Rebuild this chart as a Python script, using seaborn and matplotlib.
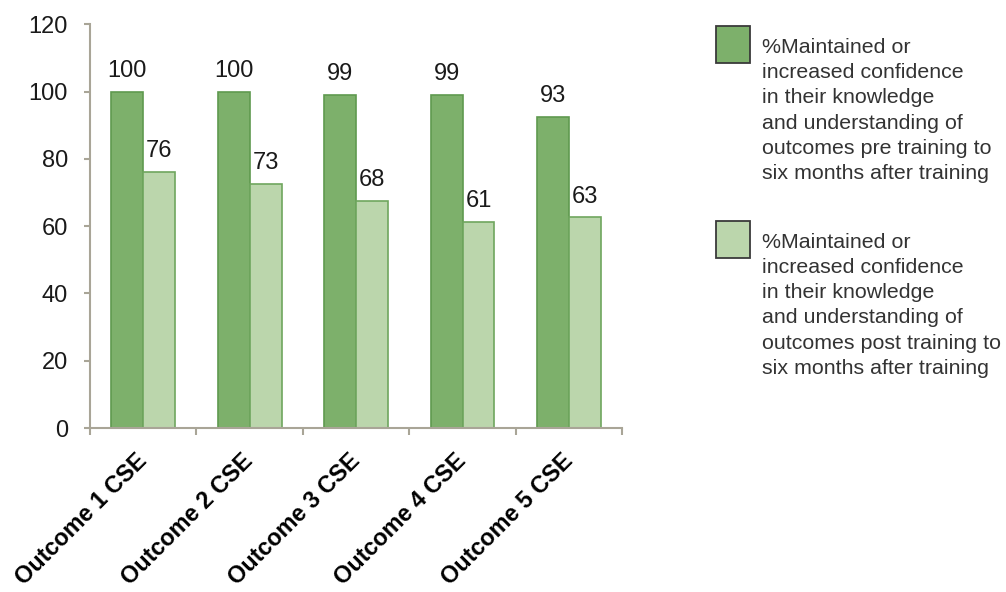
import pandas as pd
import matplotlib.pyplot as plt
import matplotlib.patches as mpatches
import seaborn as sns

# values
outcomes = ['Outcome 1 CSE', 'Outcome 2 CSE', 'Outcome 3 CSE', 'Outcome 4 CSE', 'Outcome 5 CSE']
pre_values = [100, 100, 99, 99, 92.5]
post_values = [76.2, 72.5, 67.5, 61.2, 62.6]
pre_labels = ['100', '100', '99', '99', '93']
post_labels = ['76', '73', '68', '61', '63']
series_names = ['pre', 'post']
legend_texts = [
    '%Maintained or\nincreased confidence\nin their knowledge\nand understanding of\noutcomes pre training to\nsix months after training',
    '%Maintained or\nincreased confidence\nin their knowledge\nand understanding of\noutcomes post training to\nsix months after training',
]
fills = ['#7DB06B', '#BBD6AC']
edges = ['#5F9A4F', '#6FA65E']
axis_grey = '#A9A597'

df = pd.DataFrame({
    'outcome': outcomes * 2,
    'value': pre_values + post_values,
    'series': [series_names[0]] * 5 + [series_names[1]] * 5,
})

sns.set_style('ticks')
plt.rcParams['font.family'] = ['Liberation Sans', 'DejaVu Sans']

fig = plt.figure(figsize=(10.06, 5.92), dpi=100)
ax = fig.add_axes([0.0895, 0.277, 0.529, 0.682])

sns.barplot(data=df, x='outcome', y='value', hue='series', order=outcomes,
            hue_order=series_names, palette=fills, saturation=1, width=0.6, gap=0,
            linewidth=1.2, legend=False, ax=ax)

# outline colours per series
for cont, ec, labs in zip(ax.containers, edges, [pre_labels, post_labels]):
    for bar in cont:
        bar.set_edgecolor(ec)
    ax.bar_label(cont, labels=labs, padding=7, fontsize=17, color='#1a1a1a')

ax.set_ylim(0, 120)
ax.set_yticks(range(0, 121, 20))
ax.set_xlim(-0.5, 4.5)
ax.set_xlabel('')
ax.set_ylabel('')

for side in ['top', 'right']:
    ax.spines[side].set_visible(False)
for side in ['left', 'bottom']:
    ax.spines[side].set_color(axis_grey)
    ax.spines[side].set_linewidth(1.5)

ax.tick_params(axis='y', length=4, width=1.5, color=axis_grey, labelsize=17, pad=12, labelcolor='#1a1a1a')
ax.tick_params(axis='x', which='major', bottom=False, length=0, pad=21)
ax.set_xticks([i - 0.5 for i in range(6)], minor=True)
ax.tick_params(axis='x', which='minor', bottom=True, length=5, width=1.5, color=axis_grey)
for lab in ax.get_xticklabels():
    lab.set_rotation(45)
    lab.set_ha('right')
    lab.set_va('center')
    lab.set_rotation_mode('anchor')
    lab.set_fontweight('bold')
    lab.set_fontsize(16.8)
    lab.set_color('black')

# legend drawn at the right of the plot
for i, (txt, fc) in enumerate(zip(legend_texts, fills)):
    top = 0.956 - i * 0.329
    fig.add_artist(mpatches.Rectangle((0.7115, top - 0.0625), 0.0338, 0.0625,
                                      transform=fig.transFigure, facecolor=fc,
                                      edgecolor='#3a3a3a', linewidth=1.3))
    fig.text(0.757, top - 0.0205, txt, fontsize=15.4, color='#333333',
             va='top', ha='left', linespacing=1.41)

fig.savefig('out.png', dpi=100)
